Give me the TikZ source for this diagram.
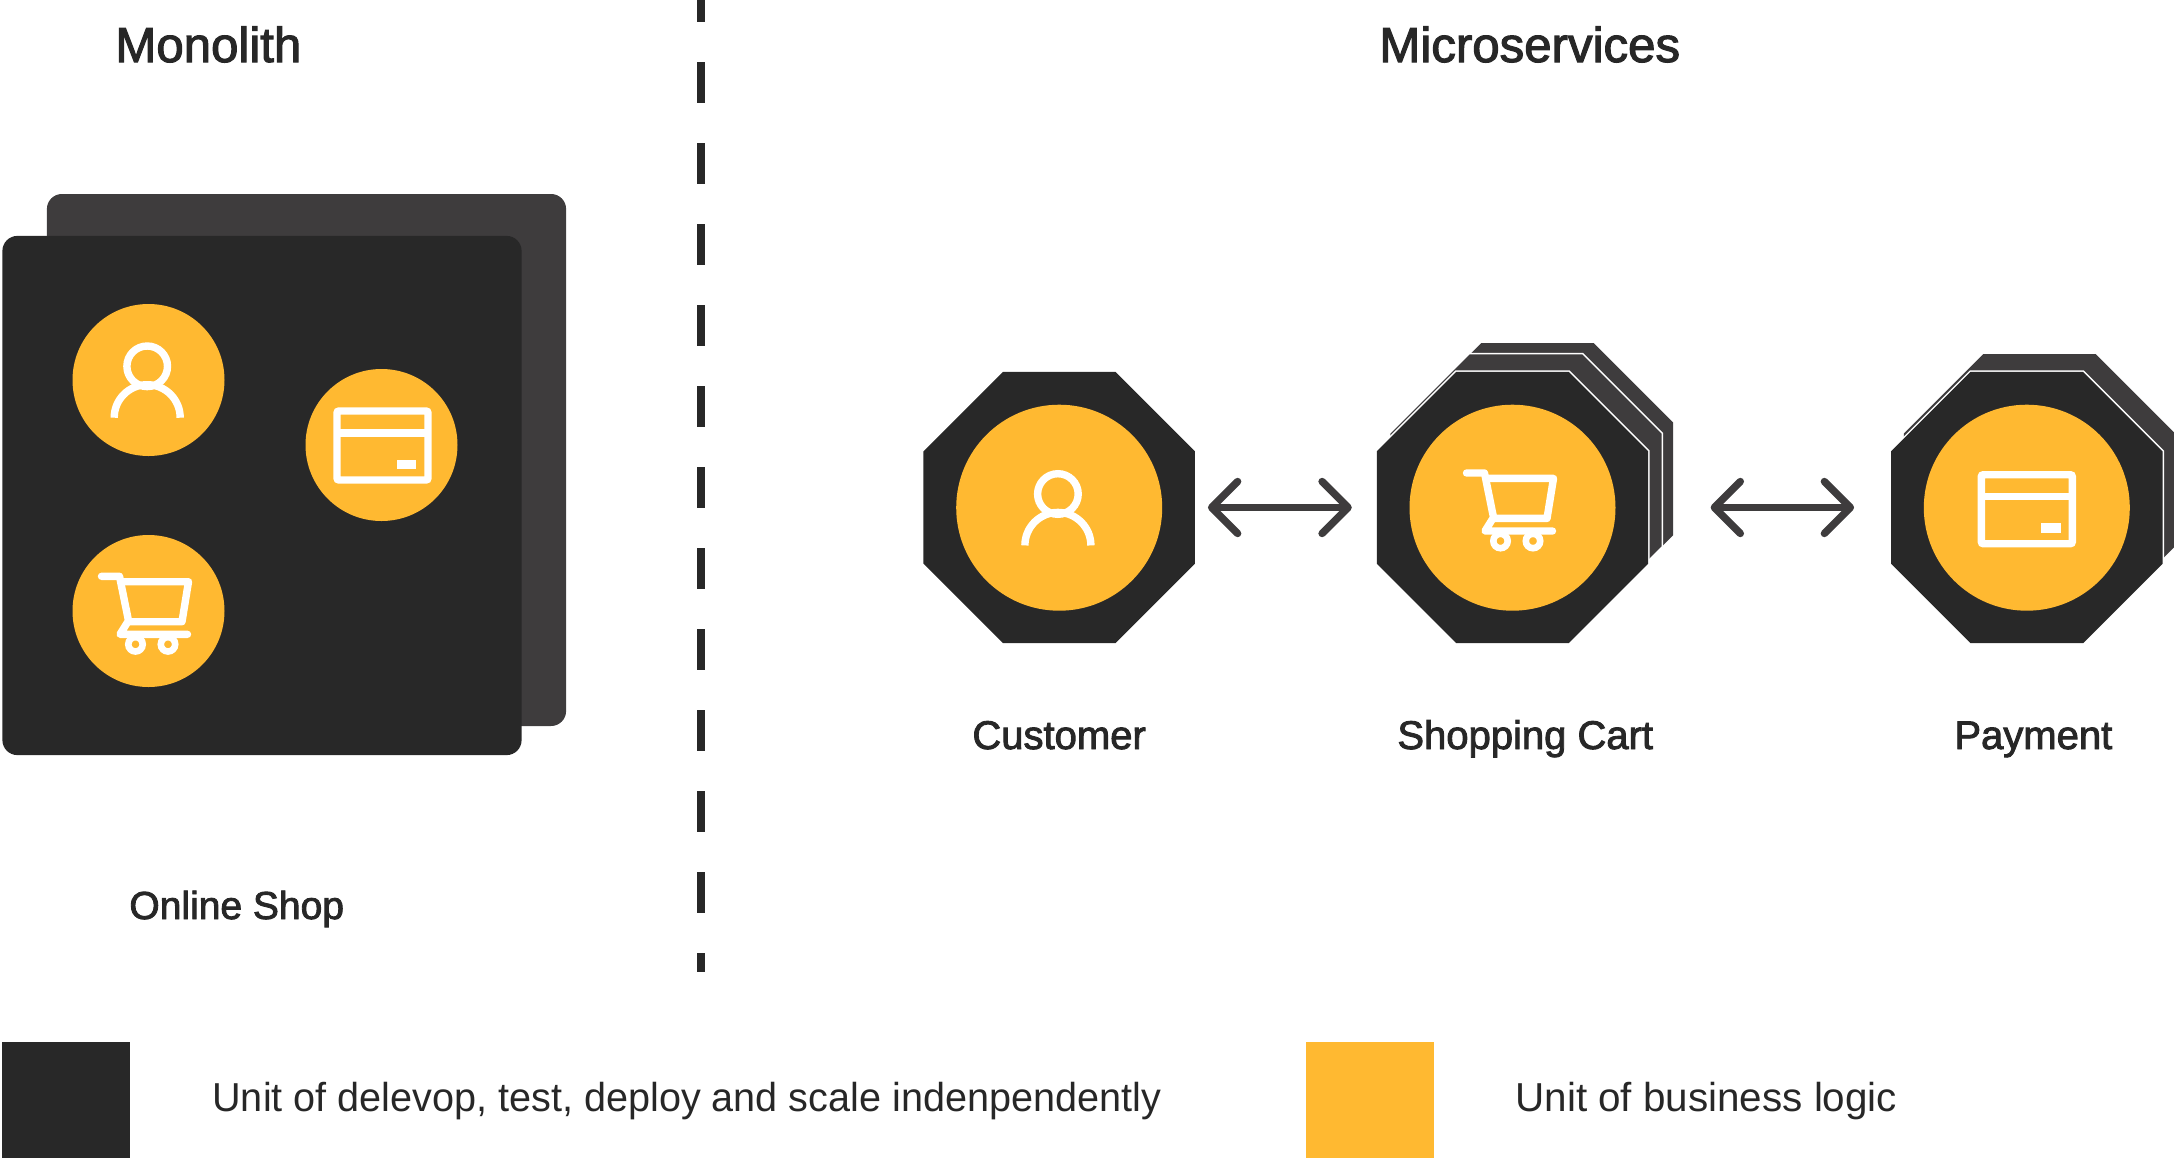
\documentclass[tikz,border=0pt]{standalone}
\usepackage{fontspec}
\setmainfont{Liberation Sans}
\newfontfamily\medfont[FakeBold=2.2]{Liberation Sans}
\newfontfamily\legendnarrow[FakeStretch=0.98]{Liberation Sans}
\usetikzlibrary{shapes.geometric,arrows.meta}
\definecolor{inkdark}{HTML}{282828}
\definecolor{inkback}{HTML}{3E3C3D}
\definecolor{bizyellow}{HTML}{FFB931}
\definecolor{txt}{HTML}{272727}
\tikzset{
  octa/.style={regular polygon,regular polygon sides=8,minimum size=146.9pt,inner sep=0pt,outer sep=0pt,fill=#1,preaction={draw=white,line width=1.5pt}},
  octaplain/.style={regular polygon,regular polygon sides=8,minimum size=146.9pt,inner sep=0pt,outer sep=0pt,fill=inkdark},
  biz/.style={circle,fill=bizyellow,inner sep=0pt,outer sep=0pt,minimum size=#1},
  sheet/.style={rectangle,rounded corners=7.5pt,fill=#1,inner sep=0pt,outer sep=0pt,minimum width=259.6pt,minimum height=259.6pt},
  swatch/.style={rectangle,fill=#1,inner sep=0pt,outer sep=0pt,minimum width=64pt,minimum height=58pt},
  title/.style={anchor=base west,inner sep=0pt,text=txt,font=\medfont\fontsize{24.6}{29}\selectfont},
  label/.style={anchor=base west,inner sep=0pt,text=txt,font=\medfont\fontsize{20}{24}\selectfont},
  legend/.style={anchor=base west,inner sep=0pt,text=txt,font=\fontsize{20.2}{24}\selectfont},
  biarrow/.style={draw=inkback,line width=3.7pt,{Straight Barb[length=13pt,width=26pt,line width=3.7pt,round]}-{Straight Barb[length=13pt,width=26pt,line width=3.7pt,round]}},
  divider/.style={draw=inkdark,line width=4pt,dash pattern=on 20.25pt off 20.25pt},
  iconline/.style={draw=white,line width=3.7pt},
  icon card/.pic={
    \draw[iconline,rounded corners=1pt] (-45.5,-33) rectangle (45.5,36);
    \draw[iconline] (-45.5,-11) -- (45.5,-11);
    \fill[white] (14,15.7) rectangle (33.7,25);
  },
  icon person/.pic={
    \draw[iconline] (-1.3,-13.7) circle[radius=20.3];
    \draw[iconline] (31.7,37.7) arc[start angle=0,end angle=-180,radius=33];
  },
  icon cart/.pic={
    \draw[iconline,line cap=round,line join=round] (-46,-34.7) -- (-28,-34.7) -- (-19,9.7) -- (-27.5,23.3) -- (40,23.3);
    \draw[iconline,line join=round] (-26,-29.3) -- (41,-29.3) -- (34.5,10.7) -- (-19,10.7);
    \draw[iconline,line width=3.3pt] (-12,33.3) circle[radius=7.2];
    \draw[iconline,line width=3.3pt] (20.5,33.3) circle[radius=7.2];
  },
}
\begin{document}
\begin{tikzpicture}[x=0.5pt,y=-0.5pt]
\clip (0,0) rectangle (2174,1157);
% titles
\node[title] (tmono) at (115,62) {Monolith};
\node[title] (tmicro) at (1379,62) {Microservices};
% divider
\coordinate (dtop) at (700.5,-19);
\coordinate (dbot) at (700.5,972);
\draw[divider] (dtop) -- (dbot);
% monolith
\node[sheet=inkback,minimum height=266pt] (shopback) at (306.5,460) {};
\node[sheet=inkdark] (shopfront) at (262,495.5) {};
\node[biz=76pt] (mcust) at (148.5,380) {};
\node[biz=76pt] (mpay) at (381.5,445) {};
\node[biz=76pt] (mcart) at (148.5,611) {};
\pic at (mcust) {icon person};
\pic at ([shift={(0.5pt,0.5pt)}]mpay) {icon card};
\pic at ([xshift=-0.5pt]mcart) {icon cart};
\node[label,font=\medfont\fontsize{19.5}{24}\selectfont] (lshop) at (129,919) {Online Shop};
% microservices
\node[octaplain] (cust) at (1059.2,507.5) {};
\node[octa=inkback] (cartb) at (1537.5,478.8) {};
\node[octa=inkback] (cartm) at (1526,490) {};
\node[octa=inkdark] (cart) at (1512.5,507.5) {};
\node[octa=inkback] (payb) at (2039.5,489.8) {};
\node[octa=inkdark] (pay) at (2026.8,507.5) {};
\node[biz=103pt] (ccust) at (1059.2,507.7) {};
\node[biz=103pt] (ccart) at (1512.5,507.7) {};
\node[biz=103pt] (cpay) at (2026.8,507.7) {};
\pic at (ccust) {icon person};
\pic at (ccart) {icon cart};
\pic at (cpay) {icon card};
\draw[biarrow,shorten <=6.5pt,shorten >=12.5pt] (cust) -- (cart);
\draw[biarrow,shorten <=31.2pt,shorten >=18.5pt] (cart) -- (pay);
\node[label] (lcust) at (972,749) {Customer};
\node[label] (lcart) at (1397,749) {Shopping Cart};
\node[label] (lpay) at (1954,749) {Payment};
% legend
\node[swatch=inkdark] (swd) at (66,1100) {};
\node[swatch=bizyellow] (swy) at (1370,1100) {};
\node[legend,font=\legendnarrow\fontsize{20.2}{24}\selectfont] (ld) at (212,1111.7) {Unit of delevop, test, deploy and scale indenpendently};
\node[legend] (ly) at (1515,1111.7) {Unit of business logic};
\end{tikzpicture}
\end{document}
